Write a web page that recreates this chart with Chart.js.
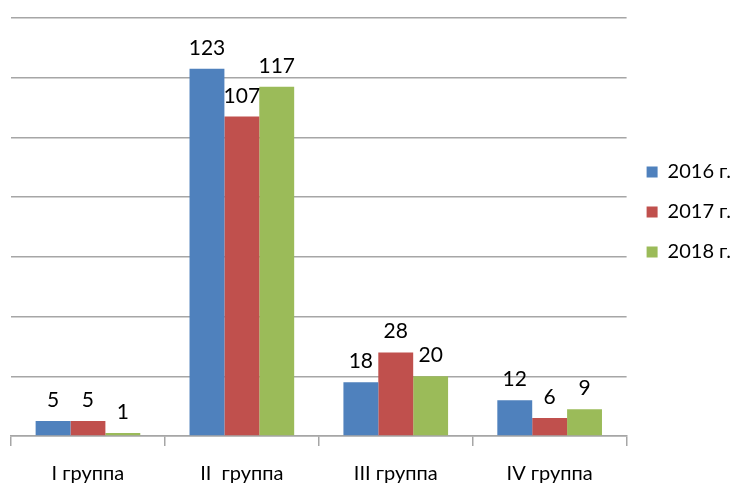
<!DOCTYPE html>
<html>
<head>
<meta charset="utf-8">
<script src="https://cdn.jsdelivr.net/npm/chart.js@4.4.1/dist/chart.umd.min.js"></script>
<style>
html,body{margin:0;padding:0;background:#fff;}
#wrap{width:734px;height:487px;position:relative;}
</style>
</head>
<body>
<div id="wrap"><canvas id="c"></canvas></div>
<script>
const categories = ['I группа', 'II  группа', 'III группа', 'IV группа'];
const seriesLabels = ['2016 г.', '2017 г.', '2018 г.'];
const values2016 = [5, 123, 18, 12];
const values2017 = [5, 107, 28, 6];
const values2018 = [1, 117, 20, 9];
const colors = ['#4F81BD', '#C0504D', '#9BBB59'];

const FONT = 'Lato, "Open Sans", sans-serif';

const dataLabels = {
  id: 'dataLabels',
  afterDatasetsDraw(chart) {
    const ctx = chart.ctx;
    ctx.save();
    ctx.font = '21px ' + FONT;
    ctx.fillStyle = '#000';
    ctx.textAlign = 'center';
    ctx.textBaseline = 'alphabetic';
    chart.data.datasets.forEach((ds, i) => {
      const meta = chart.getDatasetMeta(i);
      meta.data.forEach((bar, j) => {
        ctx.fillText(String(ds.data[j]), bar.x, bar.y - 14);
      });
    });
    ctx.restore();
  }
};

new Chart(document.getElementById('c'), {
  type: 'bar',
  data: {
    labels: categories,
    datasets: [
      { label: seriesLabels[0], data: values2016, backgroundColor: colors[0] },
      { label: seriesLabels[1], data: values2017, backgroundColor: colors[1] },
      { label: seriesLabels[2], data: values2018, backgroundColor: colors[2] }
    ]
  },
  options: {
    responsive: true,
    maintainAspectRatio: false,
    animation: false,
    layout: { padding: { top: 18, left: 11, right: -7, bottom: -15 } },
    datasets: { bar: { categoryPercentage: 0.68, barPercentage: 1.0 } },
    scales: {
      x: {
        grid: { display: true, drawOnChartArea: false, offset: true, color: '#a6a6a6', tickLength: 10, lineWidth: 1.5 },
        border: { display: true, color: '#a6a6a6', width: 1.5 },
        ticks: { color: '#000', font: { family: FONT, size: 20 }, padding: 16 }
      },
      y: {
        min: 0, max: 140,
        ticks: { stepSize: 20, display: false },
        grid: { color: '#a6a6a6', lineWidth: 1.5, drawTicks: false },
        border: { display: false }
      }
    },
    plugins: {
      legend: {
        position: 'right',
        align: 'start',
        title: { display: true, text: '', font: { size: 10, lineHeight: 1.2 }, padding: { top: 112, bottom: 0 } },
        labels: {
          boxWidth: 11, boxHeight: 11, padding: 20,
          color: '#000',
          font: { family: FONT, size: 20 }
        }
      },
      tooltip: { enabled: false }
    }
  },
  plugins: [dataLabels]
});
</script>
</body>
</html>
